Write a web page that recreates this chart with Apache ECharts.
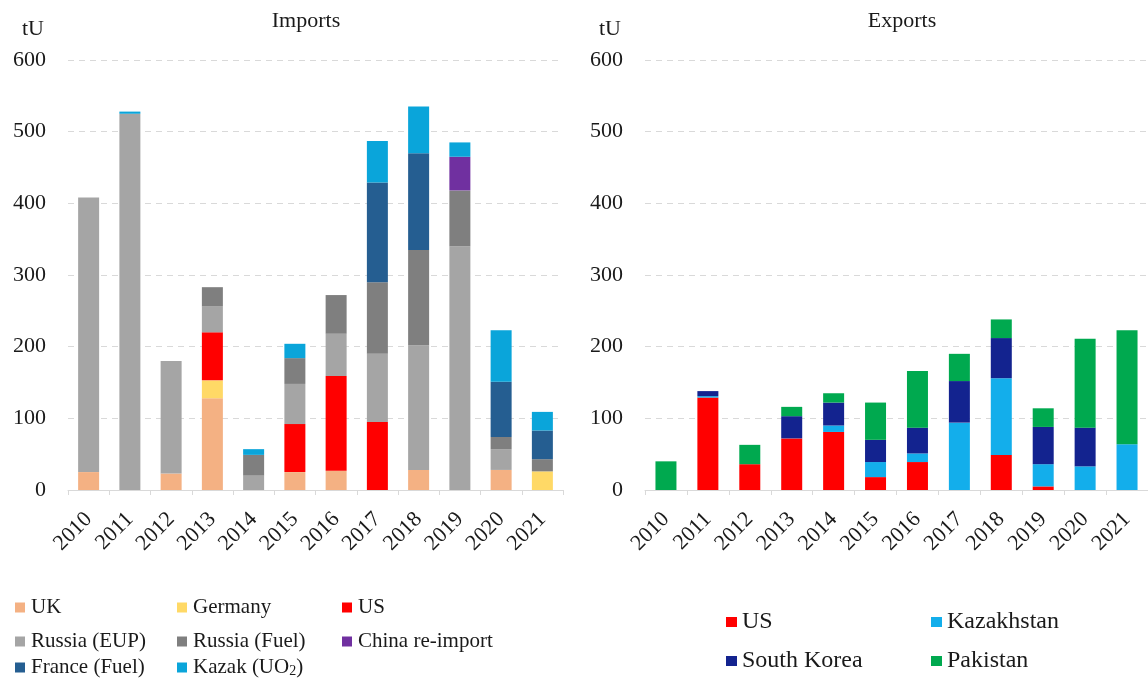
<!DOCTYPE html>
<html><head><meta charset="utf-8">
<script src="https://cdn.jsdelivr.net/npm/echarts@6/dist/echarts.min.js"></script>
<style>html,body{margin:0;padding:0;background:#fff}#c{width:1148px;height:681px}</style>
</head><body><div id="c"></div>
<script>
// ---- data ----
const years = ['2010','2011','2012','2013','2014','2015','2016','2017','2018','2019','2020','2021'];
const yTickValues = [0, 100, 200, 300, 400, 500, 600];
const unitLabel = 'tU';
const panelTitles = ['Imports', 'Exports'];

// Imports (tU)
const impNames = ['UK','Germany','US','Russia (EUP)','Russia (Fuel)','China re-import','France (Fuel)','Kazak (UO2)'];
const impUK         = [25, 0, 23, 128, 0, 25, 27, 0, 28, 0, 28, 0];
const impGermany    = [0, 0, 0, 25, 0, 0, 0, 0, 0, 0, 0, 26];
const impUS         = [0, 0, 0, 67, 0, 67, 132, 95, 0, 0, 0, 0];
const impRussiaEUP  = [383, 525, 157, 36, 20, 56, 59, 95, 174, 340, 29, 0];
const impRussiaFuel = [0, 0, 0, 27, 29, 36, 54, 100, 133, 78, 17, 17];
const impChina      = [0, 0, 0, 0, 0, 0, 0, 0, 0, 47, 0, 0];
const impFrance     = [0, 0, 0, 0, 0, 0, 0, 139, 135, 0, 77, 40];
const impKazak      = [0, 3, 0, 0, 8, 20, 0, 58, 65, 20, 72, 26];

// Exports (tU)
const expNames = ['US','Kazakhstan','South Korea','Pakistan'];
const expUS          = [0, 129, 36, 72, 81, 18, 39, 0, 49, 5, 0, 0];
const expKazakhstan  = [0, 2, 0, 0, 9, 21, 12, 94, 107, 31, 33, 64];
const expSouthKorea  = [0, 7, 0, 31, 32, 31, 36, 58, 56, 52, 54, 0];
const expPakistan    = [40, 0, 27, 13, 13, 52, 79, 38, 26, 26, 124, 159];

// ---- styling ----
const impColors = ['#F4B183','#FFD966','#FF0000','#A5A5A5','#7F7F7F','#7030A0','#255E91','#0AA5DA'];
const expColors = ['#FF0000','#13AEEB','#13238F','#00A94F'];
const FONT = '"Liberation Serif", "Times New Roman", serif';
const TXT = '#1a1a1a';
const GRID_LINE = '#d9d9d9';

const impData = [impUK, impGermany, impUS, impRussiaEUP, impRussiaFuel, impChina, impFrance, impKazak];
const expData = [expUS, expKazakhstan, expSouthKorea, expPakistan];

const grids = [
  {left: 68, top: 60, width: 495, height: 430},
  {left: 645, top: 60, width: 511, height: 430}
];

function xAxisFor(i){
  return {
    type: 'category', gridIndex: i, data: years,
    axisLine: {lineStyle: {color: GRID_LINE, width: 1}},
    axisTick: {show: true, length: 5, lineStyle: {color: GRID_LINE}},
    axisLabel: {rotate: 45, margin: 26, fontFamily: FONT, fontSize: 22, color: TXT}
  };
}
function yAxisFor(i){
  return {
    type: 'value', gridIndex: i, min: yTickValues[0], max: yTickValues[yTickValues.length-1],
    interval: yTickValues[1] - yTickValues[0],
    name: unitLabel, nameLocation: 'end', nameGap: 20,
    nameTextStyle: {fontFamily: FONT, fontSize: 22, color: TXT, align: 'right', padding: [0, 24, 0, 0]},
    axisLine: {show: false}, axisTick: {show: false},
    axisLabel: {margin: 22, fontFamily: FONT, fontSize: 22, color: TXT},
    splitLine: {show: true, lineStyle: {color: GRID_LINE, type: [6, 5], width: 1}}
  };
}

const series = [];
impNames.forEach((n, k) => series.push({
  name: n, type: 'bar', stack: 'imp', xAxisIndex: 0, yAxisIndex: 0,
  barWidth: 21, data: impData[k], itemStyle: {color: impColors[k]}
}));
expNames.forEach((n, k) => series.push({
  name: 'exp:' + n, type: 'bar', stack: 'exp', xAxisIndex: 1, yAxisIndex: 1,
  barWidth: 21, data: expData[k], itemStyle: {color: expColors[k]}
}));

// legends: one per item so columns align like the original
const legends = [];
const impCols = [15, 177, 342];
const impRows = [608, 642, 668];
impNames.forEach((n, k) => {
  legends.push({
    data: [n], left: impCols[k % 3], top: impRows[Math.floor(k / 3)] - 11,
    padding: 0, itemWidth: 10, itemHeight: 10, icon: 'rect', itemGap: 6,
    formatter: nm => nm === 'Kazak (UO2)' ? 'Kazak (UO{sub|2})' : nm,
    textStyle: {fontFamily: FONT, fontSize: 21, color: TXT, padding: [0, 0, 0, 1],
      rich: {sub: {fontFamily: FONT, fontSize: 14, color: TXT, verticalAlign: 'bottom', padding: [8, 0, 0, 0]}}}
  });
});
const expCols = [726, 931];
const expRows = [622, 661];
expNames.forEach((n, k) => {
  legends.push({
    data: ['exp:' + n], left: expCols[k % 2], top: expRows[Math.floor(k / 2)] - 12,
    padding: 0, itemWidth: 11, itemHeight: 10, icon: 'rect',
    formatter: nm => nm.slice(4),
    textStyle: {fontFamily: FONT, fontSize: 24, color: TXT}
  });
});

const chart = echarts.init(document.getElementById('c'), null, {renderer: 'canvas'});
chart.setOption({
  animation: false,
  backgroundColor: '#ffffff',
  title: [
    {text: panelTitles[0], left: 301, top: 5, textAlign: 'center', textStyle: {fontFamily: FONT, fontSize: 22, fontWeight: 'normal', color: TXT}},
    {text: panelTitles[1], left: 897, top: 5, textAlign: 'center', textStyle: {fontFamily: FONT, fontSize: 22, fontWeight: 'normal', color: TXT}}
  ],
  grid: grids,
  xAxis: [xAxisFor(0), xAxisFor(1)],
  yAxis: [yAxisFor(0), yAxisFor(1)],
  legend: legends,
  series: series
});
</script>
</body></html>
